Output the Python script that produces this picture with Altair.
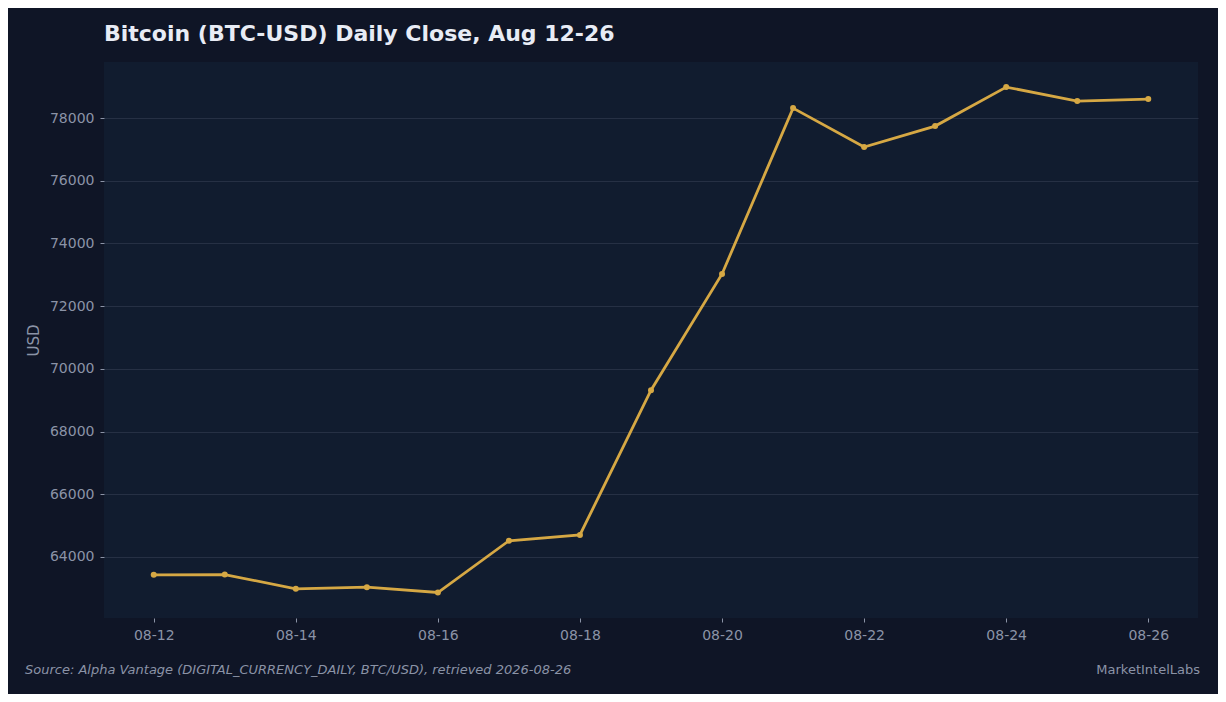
import pandas as pd
import altair as alt

# daily close
DATES = ["2026-08-12", "2026-08-13", "2026-08-14", "2026-08-15", "2026-08-16",
         "2026-08-17", "2026-08-18", "2026-08-19", "2026-08-20", "2026-08-21",
         "2026-08-22", "2026-08-23", "2026-08-24", "2026-08-25", "2026-08-26"]
CLOSE = [63427, 63436, 62981, 63035, 62863,
         64515, 64700, 69320, 73028, 78319,
         77075, 77745, 78989, 78542, 78606]
Y_TICKS = [64000, 66000, 68000, 70000, 72000, 74000, 76000, 78000]
X_TICK_DAYS = [12, 14, 16, 18, 20, 22, 24, 26]

TITLE = "Bitcoin (BTC-USD) Daily Close, Aug 12-26"
SOURCE = "Source: Alpha Vantage (DIGITAL_CURRENCY_DAILY, BTC/USD), retrieved 2026-08-26"
BRAND = "MarketIntelLabs"

BG = "#0f1526"
PLOT_BG = "#111c2f"
GRID = "#263044"
MUTED = "#8b93a6"
GOLD = "#d6a844"
FONT = "DejaVu Sans"


def make_chart():
    df = pd.DataFrame({"date": DATES, "close": CLOSE})

    x = alt.X("date:T",
              scale=alt.Scale(type="utc", domain=[
                  alt.DateTime(year=2026, month=8, date=11, hours=7, minutes=12, utc=True),
                  alt.DateTime(year=2026, month=8, date=26, hours=16, minutes=48, utc=True)]),
              axis=alt.Axis(labelExpr="utcFormat(datum.value, '%m-%d')", grid=False,
                            values=[alt.DateTime(year=2026, month=8, date=d, utc=True) for d in X_TICK_DAYS],
                            labelPadding=6)).title(None)
    y = alt.Y("close:Q",
              scale=alt.Scale(domain=[62050, 79790], nice=False, zero=False),
              axis=alt.Axis(values=Y_TICKS, format="d", grid=True,
                            labelPadding=6, titlePadding=8)).title("USD")

    base = alt.Chart(df).encode(x=x, y=y)
    line = base.mark_line(color=GOLD, strokeWidth=2.8)
    pts = base.mark_circle(color=GOLD, size=36, opacity=1)

    src = alt.Chart(pd.DataFrame({"t": [SOURCE]})).mark_text(
        align="left", baseline="middle", fontSize=13, font=FONT,
        fontStyle="italic", color=MUTED
    ).encode(x=alt.value(-79), y=alt.value(608), text="t:N")

    brand = alt.Chart(pd.DataFrame({"t": [BRAND]})).mark_text(
        align="right", baseline="middle", fontSize=13, font=FONT, color=MUTED
    ).encode(x=alt.value(1096), y=alt.value(608), text="t:N")

    return (line + pts + src + brand).properties(
        width=1094, height=556,
        title=alt.Title(TITLE, anchor="start", frame="group", fontSize=22,
                        font=FONT, fontWeight="bold", color="#e8ecf5", offset=16),
        autosize=alt.AutoSizeParams(type="none"),
        padding={"left": 96, "top": 54, "right": 20, "bottom": 76},
        background=BG,
    ).configure_view(fill=PLOT_BG, stroke=None).configure_axis(
        domain=False, tickSize=4, tickColor=MUTED, gridColor=GRID, gridWidth=1,
        labelColor=MUTED, labelFontSize=14, labelFont=FONT,
        titleColor=MUTED, titleFontSize=15, titleFont=FONT, titleFontWeight="normal",
    )


chart = make_chart()
chart.save("out.html", embed_options={"renderer": "svg", "actions": False})
